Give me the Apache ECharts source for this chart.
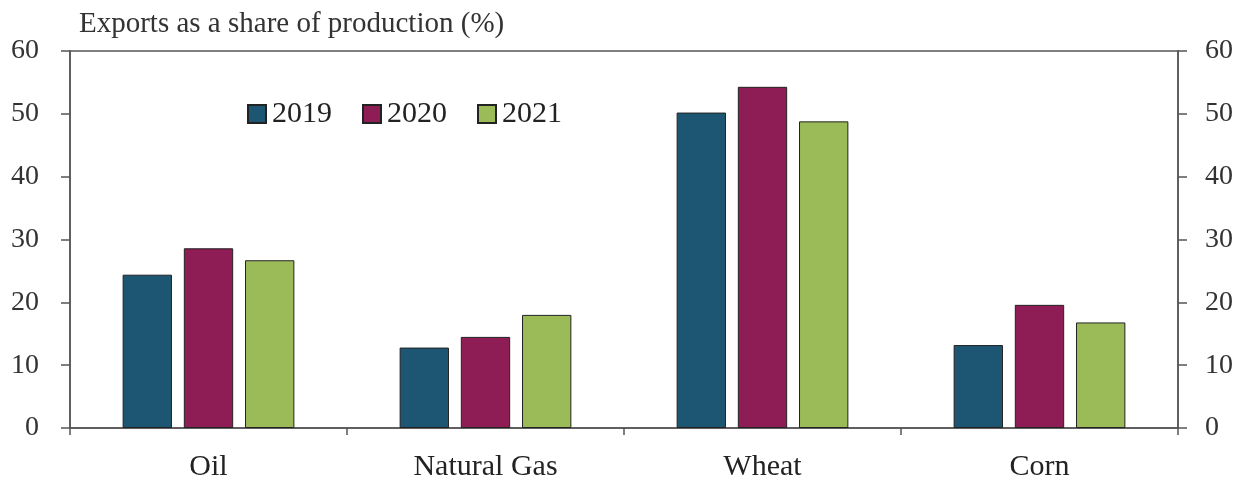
<!DOCTYPE html>
<html>
<head>
<meta charset="utf-8">
<script src="https://cdn.jsdelivr.net/npm/echarts@6/dist/echarts.min.js"></script>
<style>
  html, body { margin: 0; padding: 0; background: #fff; }
  #chart { width: 1249px; height: 485px; }
</style>
</head>
<body>
<div id="chart"></div>
<script>
// Exports as a share of production, by commodity and year
const categories = ['Oil', 'Natural Gas', 'Wheat', 'Corn'];
const years = ['2019', '2020', '2021'];
const values2019 = [24.4, 12.8, 50.2, 13.2];
const values2020 = [28.6, 14.5, 54.3, 19.6];
const values2021 = [26.7, 18.0, 48.8, 16.8];
const yTicks = [0, 10, 20, 30, 40, 50, 60];

const colors = ['#1d5673', '#8f1d55', '#9bbb59'];
const serif = '"Liberation Serif", "DejaVu Serif", serif';
const axisColor = '#555';

const seriesValues = [values2019, values2020, values2021];

const valueAxis = (pos, margin) => ({
  type: 'value',
  position: pos,
  min: yTicks[0],
  max: yTicks[yTicks.length - 1],
  interval: yTicks[1] - yTicks[0],
  axisLine: { show: true, lineStyle: { color: axisColor, width: 1.5 } },
  axisTick: { show: true, inside: false, length: 9, lineStyle: { color: axisColor, width: 1.5 } },
  axisLabel: { color: '#333', fontFamily: serif, fontSize: 28, margin: margin },
  splitLine: { show: false }
});

const chart = echarts.init(document.getElementById('chart'), null, { renderer: 'canvas' });
chart.setOption({
  animation: false,
  backgroundColor: '#fff',
  title: {
    text: 'Exports as a share of production (%)',
    left: 74,
    top: 5,
    textStyle: { fontFamily: serif, fontSize: 29, fontWeight: 'normal', color: '#333' }
  },
  legend: {
    data: years,
    left: 242,
    top: 94,
    itemWidth: 18,
    itemHeight: 18,
    itemGap: 30,
    icon: 'rect',
    textStyle: { fontFamily: serif, fontSize: 30, color: '#222', padding: [0, 0, 0, 1] }
  },
  grid: {
    left: 70, right: 71, top: 51, bottom: 57,
    show: true, borderColor: axisColor, borderWidth: 1.5, backgroundColor: 'transparent'
  },
  xAxis: {
    type: 'category',
    data: categories,
    axisLine: { show: true, lineStyle: { color: axisColor, width: 1.5 } },
    axisTick: { show: true, length: 7, alignWithLabel: false, lineStyle: { color: axisColor, width: 1.5 } },
    axisLabel: { color: '#222', fontFamily: serif, fontSize: 30, margin: 24 }
  },
  yAxis: [valueAxis('left', 31), valueAxis('right', 27)],
  series: years.map((y, i) => ({
    name: y,
    type: 'bar',
    yAxisIndex: 0,
    data: seriesValues[i],
    barGap: '24%',
    barCategoryGap: '38%',
    itemStyle: { color: colors[i], borderColor: '#222', borderWidth: 1 }
  }))
});
</script>
</body>
</html>
